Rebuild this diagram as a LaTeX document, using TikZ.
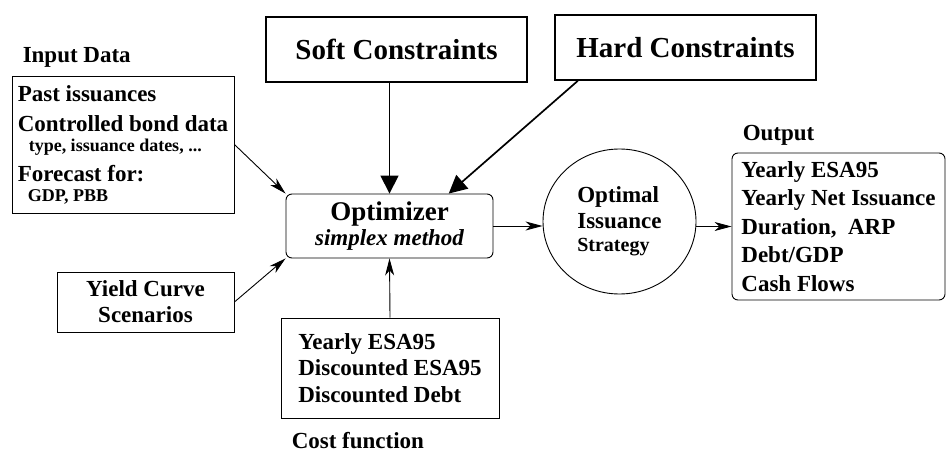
\documentclass[tikz,border=0pt]{standalone}
\usepackage{fontspec}
\setmainfont{Liberation Serif}
\usetikzlibrary{arrows.meta,positioning,shapes.geometric,calc}

\begin{document}
\begin{tikzpicture}[x=1pt,y=-1pt,every node/.style={font=\fontsize{23}{26}\selectfont\bfseries,inner sep=0pt},
      box/.style={draw,line width=0.9pt,align=left},
      bigbox/.style={draw,line width=1.7pt,font=\fontsize{29}{32}\selectfont\bfseries},
      arr/.style={line width=0.9pt,-{Stealth[length=17pt,width=9pt,inset=5pt]}},
      bigarr/.style={line width=1.7pt,-{Triangle[length=18pt,width=18pt]}}]
    \useasboundingbox (0,0) rectangle (947,452);
    \node[box,minimum width=222pt,minimum height=137pt] (inp) at (123,144.5)
      {Past issuances\\[4pt]Controlled bond data\\[-6pt]\hspace*{11pt}{\fontsize{18}{20}\selectfont type, issuance dates, ...}\\[4pt]Forecast for:\\[-6pt]\hspace*{10pt}{\fontsize{18}{20}\selectfont GDP, PBB}};
    \node[box,align=center,minimum width=177pt,minimum height=60pt] (yld) at (145.5,302) {Yield Curve\\Scenarios};
    \node[bigbox,minimum width=261pt,minimum height=65pt] (soft) at (396.5,49.5) {Soft Constraints};
    \node[bigbox,minimum width=261pt,minimum height=65pt] (hard) at (685.5,47.5) {Hard Constraints};
    \node[box,rounded corners=6pt,align=center,minimum width=207pt,minimum height=64pt] (opt) at (389.5,226)
      {{\fontsize{27}{28}\selectfont Optimizer}\\[-1pt]{\itshape simplex method}};
    \node[box,ellipse,minimum width=153pt,minimum height=145pt] (strat) at (619.5,221.5)
      {Optimal\\Issuance\\[-3pt]{\fontsize{20}{21}\selectfont Strategy}};
    \node[box,rounded corners=6pt,minimum width=213pt,minimum height=147pt,font=\fontsize{23}{28.5}\selectfont\bfseries] (out) at (838.5,226.5)
      {Yearly ESA95\\Yearly Net Issuance\\Duration,\ \ ARP\\Debt/GDP\\Cash Flows};
    \node[box,minimum width=218pt,minimum height=100pt,font=\fontsize{23}{26.5}\selectfont\bfseries] (cost) at (390,368)
      {Yearly ESA95\\Discounted ESA95\\Discounted Debt};
    % Labels
    \node[above right=8pt and 11pt of inp.north west] (inlbl) {Input Data};
    \node[above right=7pt and 11pt of out.north west] (outlbl) {Output};
    \node[below right=14pt and 11pt of cost.south west] (costlbl) {Cost function};
    % Flows
    \foreach \a/\b in {inp.east/opt.north west,yld.east/opt.south west,cost.north/opt.south,opt.east/opt.east -| strat.west,out.west -| strat.east/out.west}{\draw[arr](\a)--(\b);}
    \draw[bigarr] (opt.north |- soft.south) -- (opt.north);
    \draw[bigarr] ($(hard.south west)!0.09!(hard.south east)$) -- ($(opt.north)!0.57!(opt.north east)$);
  \end{tikzpicture}
\end{document}
